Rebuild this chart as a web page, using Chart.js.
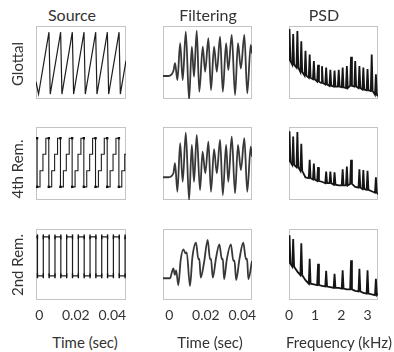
<!DOCTYPE html>
<html>
<head>
<meta charset="utf-8">
<script src="https://cdn.jsdelivr.net/npm/chart.js@4.4.1/dist/chart.umd.min.js"></script>
<style>
  body { margin: 0; background: #fff; overflow: hidden; }
  #fig { position: relative; width: 394px; height: 352px; font-family: Lato, sans-serif; color: #333; }
  #fig canvas { position: absolute; }
  .lbl { position: absolute; white-space: nowrap; font-size: 15px; line-height: 1; transform: translate(-50%, -50%); }
  .head { font-size: 16px; }
  .rot { transform: translate(-50%, -50%) rotate(-90deg); }
</style>
</head>
<body>
<div id="fig"></div>
<script>
// labels
const colNames = ['Source', 'Filtering', 'PSD'];
const rowNames = ['Glottal', '4th Rem.', '2nd Rem.'];
const axisTitles = ['Time (sec)', 'Time (sec)', 'Frequency (kHz)'];
const timeTicks = [0, 0.02, 0.04];
const freqTicks = [0, 1, 2, 3];

// source waveforms (time in s, normalised level)
const glotT = [-0.0018, -0.0004, 0.0053, 0.0060, 0.0117, 0.0124, 0.0181, 0.0188, 0.0245, 0.0252, 0.0309, 0.0316, 0.0373, 0.0380, 0.0437, 0.0444, 0.0475];
const glotV = [0.2, 0, 1, 0, 1, 0, 1, 0, 1, 0, 1, 0, 1, 0, 1, 0, 0.54];

const rem4T = [-0.0018, -0.0012, -0.0012, 0.0004, 0.0004, 0.0020, 0.0020, 0.0036, 0.0036,
  0.0052, 0.0052, 0.0068, 0.0068, 0.0084, 0.0084, 0.0100, 0.0100,
  0.0116, 0.0116, 0.0132, 0.0132, 0.0148, 0.0148, 0.0164, 0.0164,
  0.0180, 0.0180, 0.0196, 0.0196, 0.0212, 0.0212, 0.0228, 0.0228,
  0.0244, 0.0244, 0.0260, 0.0260, 0.0276, 0.0276, 0.0292, 0.0292,
  0.0308, 0.0308, 0.0324, 0.0324, 0.0340, 0.0340, 0.0356, 0.0356,
  0.0372, 0.0372, 0.0388, 0.0388, 0.0404, 0.0404, 0.0420, 0.0420,
  0.0436, 0.0436, 0.0452, 0.0452, 0.0468, 0.0468, 0.0475];
const rem4V = [1, 1, 0, 0, 0.33, 0.33, 0.67, 0.67, 1,
  1, 0, 0, 0.33, 0.33, 0.67, 0.67, 1,
  1, 0, 0, 0.33, 0.33, 0.67, 0.67, 1,
  1, 0, 0, 0.33, 0.33, 0.67, 0.67, 1,
  1, 0, 0, 0.33, 0.33, 0.67, 0.67, 1,
  1, 0, 0, 0.33, 0.33, 0.67, 0.67, 1,
  1, 0, 0, 0.33, 0.33, 0.67, 0.67, 1,
  1, 0, 0, 0.33, 0.33, 0.67, 0.67];

const rem2T = [-0.0018, -0.0010, -0.0010, 0.0022, 0.0022, 0.0054, 0.0054, 0.0086, 0.0086, 0.0118, 0.0118,
  0.0150, 0.0150, 0.0182, 0.0182, 0.0214, 0.0214, 0.0246, 0.0246, 0.0278, 0.0278, 0.0310, 0.0310,
  0.0342, 0.0342, 0.0374, 0.0374, 0.0406, 0.0406, 0.0438, 0.0438, 0.0470, 0.0470, 0.0475];
const rem2V = [1, 1, 0, 0, 1, 1, 0, 0, 1, 1, 0,
  0, 1, 1, 0, 0, 1, 1, 0, 0, 1, 1, 0,
  0, 1, 1, 0, 0, 1, 1, 0, 0, 1, 1];

// filtered waveforms
const filt1T = [-0.0035, -0.0005, 0.0022, 0.0031, 0.0044, 0.0059, 0.0073, 0.0090, 0.0108, 0.0123, 0.0135, 0.0150, 0.0164, 0.0183, 0.0196, 0.0214, 0.0228, 0.0245, 0.0260, 0.0278, 0.0293, 0.0311, 0.0323, 0.0342, 0.0360, 0.0376, 0.0392, 0.0411, 0.0427, 0.0446, 0.0453];
const filt1V = [0, 0, 0.2, 0.51, -0.16, 1.31, -0.16, 1.77, -0.93, 1.17, -0.03, 1.81, -0.63, 1.17, 0.17, 1.51, -0.56, 1.17, 0.17, 1.57, -0.63, 1.31, 0.24, 1.64, -0.76, 1.31, 0.3, 1.64, -0.69, 1.24, 0.9];

const filt2T = [-0.0035, -0.0005, 0.0022, 0.0031, 0.0044, 0.0059, 0.0073, 0.0090, 0.0108, 0.0123, 0.0135, 0.0150, 0.0168, 0.0182, 0.0197, 0.0214, 0.0228, 0.0245, 0.0260, 0.0278, 0.0293, 0.0311, 0.0323, 0.0342, 0.0360, 0.0376, 0.0392, 0.0411, 0.0427, 0.0446, 0.0453];
const filt2V = [0, 0, 0.16, 0.56, -0.58, 1.36, -0.18, 1.78, -0.91, 1.29, -0.18, 1.69, -0.51, 1.02, 0.16, 1.42, -0.58, 1.12, 0.16, 1.49, -0.71, 1.29, -0.18, 1.62, -0.64, 1.29, 0.29, 1.56, -0.58, 1.22, 0.82];

const filt3T = [-0.0035, 0.0004, 0.0013, 0.0022, 0.0030, 0.0037, 0.0049, 0.0062, 0.0077, 0.0088, 0.0095, 0.0113, 0.0126, 0.0146, 0.0159, 0.0164, 0.0172, 0.0190, 0.0210, 0.0223, 0.0228, 0.0238, 0.0256, 0.0274, 0.0288, 0.0293, 0.0300, 0.0315, 0.0337, 0.0351, 0.0357, 0.0366, 0.0384, 0.0405, 0.0420, 0.0426, 0.0433, 0.0453];
const filt3V = [0, 0, 0.28, 0.5, 0.17, 0.4, -0.35, 0.92, 1.45, 1.25, 1.3, -0.39, 1.03, 1.78, 0.95, 0.98, 0.03, 0.78, 1.92, 0.95, 0.98, 0.03, 1.03, 1.7, 0.95, 0.98, -0.05, 0.95, 1.7, 0.87, 0.89, -0.09, 0.95, 1.78, 0.95, 0.98, -0.05, 0.87];

// spectra: harmonic frequencies (kHz), peak and floor levels (relative)
const harmFreq = [0.02, 0.16, 0.32, 0.47, 0.63, 0.79, 0.95, 1.11, 1.26, 1.42, 1.58, 1.74, 1.90, 2.05, 2.21, 2.37, 2.53, 2.69, 2.84, 3.00, 3.16, 3.32];
const psdGlotPeak  = [96, 89, 93, 79, 66, 61, 52, 47, 45, 43, 40, 39, 40, 43, 45, 58, 52, 45, 43, 41, 61, 34];
const psdGlotFloor = [52, 47, 43, 37, 32, 29, 27, 24, 22, 20, 18, 17, 17, 16, 15, 18, 17, 15, 13, 12, 11, 6];
const psdRem4Peak  = [94, 87, 93, 77, null, 55, 50, 45, null, 39, 39, 38, null, 42, 46, 55, null, 42, 41, 40, null, 31];
const psdRem4Floor = [52, 48, 45, 40, 31, 30, 28, 26, 25, 23, 23, 21, 20, 20, 20, 22, 18, 17, 15, 14, 12, 10];
const psdRem2Peak  = [91, 86, null, 80, null, 58, null, 51, null, 41, null, 37, null, 42, null, 56, null, 44, null, 42, null, 30];
const psdRem2Floor = [51, 47, 40, 35, 28, 23, 22, 21, 20, 19, 18, 17, 17, 16, 15, 15, 13, 12, 10, 9, 8, 7];
const psdEnd = [4, 8, 9];

// layout of the plot boxes
const boxL = [36, 163, 289], boxW = [90, 89, 89];
const boxT = [26, 127, 229], boxH = [73, 73, 71];
const xRange = [[-0.0018, 0.0475], [-0.0035, 0.0453], [0, 3.40]];

const fig = document.getElementById('fig');
const pts = (xs, ys) => xs.map((x, i) => ({ x, y: ys[i] }));

function psdPoints(peaks, floors, endLevel) {
  const out = [];
  harmFreq.forEach((f, k) => {
    if (peaks[k] === null) { out.push({ x: f, y: floors[k] }); return; }
    out.push({ x: f - 0.035, y: floors[k] }, { x: f, y: peaks[k] }, { x: f + 0.035, y: floors[k] });
  });
  out.push({ x: 3.40, y: endLevel });
  return out;
}

const frame = {
  id: 'frame',
  beforeDatasetsDraw(c) {
    const a = c.chartArea, ctx = c.ctx;
    ctx.save();
    ctx.strokeStyle = '#c4c4c4';
    ctx.lineWidth = 1;
    ctx.strokeRect(a.left + 0.5, a.top + 0.5, a.right - a.left - 1, a.bottom - a.top - 1);
    ctx.restore();
  }
};

function panel(row, col, ds, yr) {
  const pad = 20, showX = row === 2;
  const cv = document.createElement('canvas');
  cv.width = boxW[col] + 2 * pad;
  cv.height = boxH[row] + (showX ? 30 : 0);
  cv.style.left = (boxL[col] - pad) + 'px';
  cv.style.top = boxT[row] + 'px';
  fig.appendChild(cv);
  const x = {
    type: 'linear', min: xRange[col][0], max: xRange[col][1], display: showX,
    grid: { display: false, drawTicks: false }, border: { display: false },
    afterBuildTicks: s => { s.ticks = (col === 2 ? freqTicks : timeTicks).map(v => ({ value: v })); },
    ticks: { padding: 7, color: '#333', font: { family: 'Lato', size: 14 }, maxRotation: 0, autoSkip: false, callback: v => String(v) }
  };
  if (showX) x.afterFit = s => { s.height = 30; };
  new Chart(cv, {
    type: 'line',
    data: { datasets: [ds] },
    options: {
      responsive: false,
      animation: false,
      devicePixelRatio: 1,
      layout: { padding: { left: pad, right: pad, top: 0, bottom: 0 } },
      plugins: { legend: { display: false }, tooltip: { enabled: false } },
      scales: {
        x,
        y: { min: yr[0], max: yr[1], display: false }
      }
    },
    plugins: [frame]
  });
}

const srcLine = { borderColor: '#1e1e1e', borderWidth: 1.2, pointRadius: 0, tension: 0 };
const filtLine = { borderColor: '#383838', borderWidth: 1.8, pointRadius: 0, cubicInterpolationMode: 'monotone' };
const psdLine = { borderColor: '#151515', borderWidth: 1.8, pointRadius: 0, tension: 0 };

// dots where the 4th-rem staircase drops
const dropDot = c => {
  const d = c.dataset.data, i = c.dataIndex, p = d[i];
  if (!p) return 0;
  const next = d[i + 1], prev = d[i - 1];
  if (p.y === 1 && next && next.y === 0) return 1.7;
  if (p.y === 0 && prev && prev.y === 1) return 1.7;
  return 0;
};

panel(0, 0, { ...srcLine, data: pts(glotT, glotV) }, [-0.08, 1.1]);
panel(1, 0, { ...srcLine, borderWidth: 1.1, data: pts(rem4T, rem4V),
  pointStyle: 'rect', pointRadius: dropDot, pointBackgroundColor: '#111', pointBorderWidth: 0 }, [-0.27, 1.23]);
panel(2, 0, { ...srcLine, data: pts(rem2T, rem2V),
  pointStyle: 'line', rotation: 90, pointBorderColor: '#111', pointBorderWidth: 1.4,
  pointRadius: c => (c.dataIndex === 0 || c.dataIndex === rem2T.length - 1) ? 0 : 2.4 }, [-0.62, 1.2]);

panel(0, 1, { ...filtLine, data: pts(filt1T, filt1V) }, [-0.92, 2.0]);
panel(1, 1, { ...filtLine, data: pts(filt2T, filt2V) }, [-0.91, 2.01]);
panel(2, 1, { ...filtLine, data: pts(filt3T, filt3V) }, [-1.09, 2.47]);

panel(0, 2, { ...psdLine, data: psdPoints(psdGlotPeak, psdGlotFloor, psdEnd[0]) }, [0, 100]);
panel(1, 2, { ...psdLine, data: psdPoints(psdRem4Peak, psdRem4Floor, psdEnd[1]) }, [0, 100]);
panel(2, 2, { ...psdLine, data: psdPoints(psdRem2Peak, psdRem2Floor, psdEnd[2]) }, [0, 100]);

// text
function label(text, x, y, cls) {
  const d = document.createElement('div');
  d.className = 'lbl' + (cls ? ' ' + cls : '');
  d.textContent = text;
  d.style.left = x + 'px';
  d.style.top = y + 'px';
  fig.appendChild(d);
  return d;
}
const headX = [72, 208, 324];
colNames.forEach((t, i) => label(t, headX[i], 15, 'head'));
const rowY = [64, 169, 265];
rowNames.forEach((t, i) => label(t, 17, rowY[i], 'rot'));
label(axisTitles[0], 85, 342);
label(axisTitles[1], 210, 342);
const ft = label(axisTitles[2], 286, 342);
ft.style.transform = 'translate(0, -50%)';
</script>
</body>
</html>
